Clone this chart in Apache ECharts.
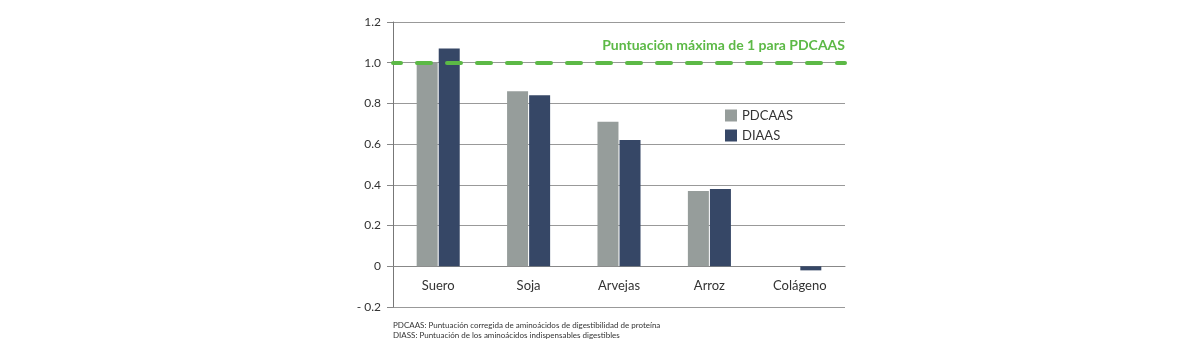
<!DOCTYPE html>
<html><head><meta charset="utf-8">
<script src="https://cdn.jsdelivr.net/npm/echarts@6/dist/echarts.min.js"></script>
<style>html,body{margin:0;padding:0;background:#fff}#c{width:1201px;height:356px}</style>
</head><body><div id="c"></div>
<script>
const categories = ["Suero", "Soja", "Arvejas", "Arroz", "Colágeno"];
const pdcaas = [1.0, 0.86, 0.71, 0.37, 0];
const diaas = [1.07, 0.84, 0.62, 0.38, -0.02];
const seriesNames = ["PDCAAS", "DIAAS"];
const maxLine = 1.0;
const maxLabel = "Puntuación máxima de 1 para PDCAAS";
const footnotes = ["PDCAAS: Puntuación corregida de aminoácidos de digestibilidad de proteína",
                   "DIASS: Puntuación de los aminoácidos indispensables digestibles"];
const FONT = "Lato, 'Noto Sans', sans-serif";
const chart = echarts.init(document.getElementById('c'));
chart.setOption({
  animation: false,
  textStyle: { fontFamily: FONT },
  grid: { left: 393, right: 356, top: 22, bottom: 49 },
  legend: {
    orient: 'vertical', left: 725, top: 109, padding: 0, itemWidth: 12, itemHeight: 12, itemGap: 7,
    icon: 'rect', data: seriesNames,
    textStyle: { fontFamily: FONT, fontSize: 13, color: '#333' }
  },
  graphic: [
    { type: 'text', left: 393, top: 320, style: { text: footnotes.join('\n'), font: "8px " + FONT, fill: '#333', lineHeight: 10 } }
  ],
  xAxis: {
    type: 'category', data: categories,
    offset: -41,
    axisLine: { onZero: false, lineStyle: { color: '#888', width: 1 } },
    axisTick: { show: false },
    axisLabel: { margin: 13, fontSize: 13, color: '#333', fontFamily: FONT }
  },
  yAxis: {
    type: 'value', min: -0.2, max: 1.2, interval: 0.2,
    axisLine: { show: true, lineStyle: { color: '#777' } },
    axisTick: { show: true, length: 6, lineStyle: { color: '#888' } },
    splitLine: { lineStyle: { color: '#999', width: 1 } },
    axisLabel: {
      margin: 12, fontSize: 12, color: '#333', fontFamily: FONT,
      formatter: v => { const r = Math.round(v * 10) / 10; if (r === 0) return '0'; if (r < 0) return '- ' + Math.abs(r).toFixed(1); return r.toFixed(1); }
    }
  },
  series: [
    { name: seriesNames[0], type: 'bar', data: pdcaas, barWidth: 21, barGap: '5%',
      itemStyle: { color: '#969d9b' },
      markLine: {
        silent: true, symbol: 'none', z: 10,
        data: [{ yAxis: maxLine }],
        lineStyle: { color: '#5cb946', width: 4, type: [14, 16], dashOffset: 6, cap: 'round' },
        label: { show: true, position: 'insideEndTop', formatter: maxLabel, distance: [0, 10],
          color: '#5cb946', fontWeight: 'bold', fontSize: 14, fontFamily: FONT }
      }
    },
    { name: seriesNames[1], type: 'bar', data: diaas, barWidth: 21,
      itemStyle: { color: '#364766' } }
  ]
});
</script></body></html>
